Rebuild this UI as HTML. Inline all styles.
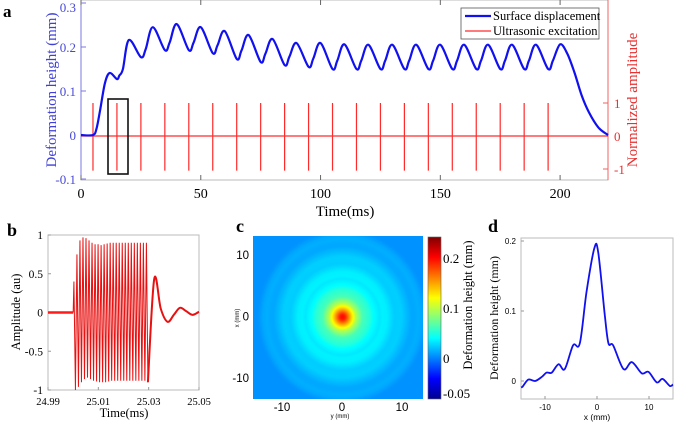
<!DOCTYPE html>
<html><head><meta charset="utf-8"><style>
html,body{margin:0;padding:0;background:#fff;width:676px;height:425px;overflow:hidden;position:relative}
svg{position:absolute;left:0;top:0}
canvas{position:absolute}
text{font-family:"Liberation Serif",serif}
.sans{font-family:"Liberation Sans",sans-serif}
</style></head><body>
<svg id="fig" width="676" height="425"></svg>
<canvas id="heat" width="170" height="163" style="left:253px;top:236px"></canvas>
<script>
// ---------- Panel a data ----------
const riseT=[0,5,6.5,8,10,12,15,16,17.5];
const riseV=[0,0,0.015,0.057,0.118,0.141,0.127,0.135,0.15];
const peakT=[20,30,40,50,60,70,80,90,100,110,120,130,140,150,160,170,180,190,200];
const peakV=[0.216,0.245,0.252,0.245,0.236,0.227,0.218,0.209,0.209,0.206,0.205,0.205,0.205,0.205,0.205,0.205,0.205,0.205,0.206];
const troughT=[25,35,45,55,65,75,85,95,105,115,125,135,145,155,165,175,185,195];
const troughV=[0.177,0.193,0.193,0.186,0.173,0.166,0.159,0.155,0.150,0.150,0.150,0.150,0.150,0.150,0.150,0.150,0.150,0.150];
const shoulderT=[27,37,47,57,67,77,87,97,107,117,127,137,147,157,167,177,187,197];
const shoulderV=[0.195,0.21,0.21,0.204,0.192,0.185,0.178,0.174,0.169,0.169,0.169,0.169,0.169,0.169,0.169,0.169,0.169,0.169];
const fallT=[203,206,209,212,216,220];
const fallV=[0.185,0.142,0.09,0.052,0.017,0];
const spikeT=[5,15,25,35,45,55,65,75,85,95,105,115,125,135,145,155,165,175,185,195];
const aXTicks=[0,50,100,150,200];
const aYTicks=[-0.1,0,0.1,0.2,0.3];
const aYTickLabels=["-0.1","0","0.1","0.2","0.3"];
const aRTicks=[-1,0,1];
// ---------- Panel b data ----------
const burstStart=25.0, burstEnd=25.03;
const posPk=[0.4,0.75,0.93,0.97,0.96,0.93,0.9,0.88,0.88,0.87,0.88,0.89,0.9,0.9,0.9,0.9,0.9,0.9,0.9,0.9,0.9,0.9,0.9,0.9,0.9];
const negPk=[-1,-0.96,-0.9,-0.86,-0.84,-0.86,-0.88,-0.89,-0.9,-0.9,-0.9,-0.89,-0.88,-0.88,-0.88,-0.88,-0.88,-0.88,-0.88,-0.88,-0.88,-0.88,-0.88,-0.88,-0.9];
const ringT=[25.0322,25.0348,25.0375,25.0400,25.0424,25.0448,25.0474,25.05];
const ringV=[0.43,0.05,-0.12,-0.03,0.06,0.02,-0.03,0.01];
const bXTicks=[24.99,25.01,25.03,25.05];
const bXTickLabels=["24.99","25.01","25.03","25.05"];
const bYTicks=[-1,-0.5,0,0.5,1];
const bYTickLabels=["-1","-0.5","0","0.5","1"];
// ---------- Panel d data (also radial profile for c) ----------
const dX=[-14.6,-14.3,-13.2,-11.9,-10.6,-9.7,-8.7,-7.4,-6.2,-4.6,-3.3,-2.0,-0.5,0.25,1.5,2.2,3.1,5.1,6.7,8.6,9.9,11.5,12.6,14.0,14.6];
const dY=[-0.009,-0.008,0.002,0.0,0.006,0.012,0.012,0.024,0.017,0.051,0.054,0.128,0.19,0.183,0.094,0.054,0.051,0.017,0.027,0.011,0.013,-0.002,0.003,-0.007,-0.005];
const dXTicks=[-10,0,10];
const dYTicks=[0,0.1,0.2];
const dYTickLabels=["0","0.1","0.2"];
const cTicks=[-10,0,10];
const cbarTicks=[0.2,0.1,0];
const cbarTickLabels=["0.2","0.1","0"];

const NS="http://www.w3.org/2000/svg";
const svg=document.getElementById('fig');
function el(tag,attrs,parent,txt){const e=document.createElementNS(NS,tag);for(const k in attrs)e.setAttribute(k,attrs[k]);if(txt!==undefined)e.textContent=txt;(parent||svg).appendChild(e);return e;}
function cr(pts){let d=`M${pts[0][0].toFixed(2)},${pts[0][1].toFixed(2)}`;for(let i=0;i<pts.length-1;i++){const p0=pts[i-1]||pts[i],p1=pts[i],p2=pts[i+1],p3=pts[i+2]||p2;const c1=[p1[0]+(p2[0]-p0[0])/6,p1[1]+(p2[1]-p0[1])/6],c2=[p2[0]-(p3[0]-p1[0])/6,p2[1]-(p3[1]-p1[1])/6];d+=`C${c1[0].toFixed(2)},${c1[1].toFixed(2)} ${c2[0].toFixed(2)},${c2[1].toFixed(2)} ${p2[0].toFixed(2)},${p2[1].toFixed(2)}`;}return d;}

// ================= Panel a =================
const ax=t=>81+t*(608-81)/220;
const ay=v=>135-v*440;
const ar=v=>136-v*33;
const ga=el('g',{},svg);
let t=el('text',{x:3,y:17,'font-size':17,'font-weight':'bold'},ga,'a');
// box
let b=el('rect',{x:81,y:0,width:527,height:180,fill:'none',stroke:'#bbb','stroke-width':1},ga);
let la=el('line',{x1:81,y1:0,x2:81,y2:180,stroke:'#7a7ae0','stroke-width':1},ga);
let ra=el('line',{x1:608,y1:0,x2:608,y2:180,stroke:'#f06060','stroke-width':1},ga);
aXTicks.forEach(v=>{
  let tk=el('line',{x1:ax(v),y1:180,x2:ax(v),y2:175,stroke:'#666'},ga);
  let tk2=el('line',{x1:ax(v),y1:0,x2:ax(v),y2:5,stroke:'#666'},ga);
  let l=el('text',{x:ax(v),y:198,'font-size':14,'text-anchor':'middle'},ga,String(v));
});
aYTicks.forEach((v,i)=>{
  let tk=el('line',{x1:81,y1:ay(v),x2:86,y2:ay(v),stroke:'#7a7ae0'},ga);
  let l=el('text',{x:76,y:ay(v)+(v>0.25?9:5),'font-size':13,'text-anchor':'end',fill:'#4848d8'},ga,aYTickLabels[i]);
});
aRTicks.forEach(v=>{
  let tk=el('line',{x1:603,y1:ar(v),x2:608,y2:ar(v),stroke:'#f06060'},ga);
  let l=el('text',{x:614,y:ar(v)+5,'font-size':13,fill:'#e83030'},ga,String(v));
});
let xl=el('text',{x:345,y:216,'font-size':15,'text-anchor':'middle'},ga,'Time(ms)');
let yl=el('text',{x:0,y:0,'font-size':15,'text-anchor':'middle',fill:'#4040d8',transform:'translate(56,90) rotate(-90)'},ga,'Deformation height (mm)');
let yr=el('text',{x:0,y:0,'font-size':15,'text-anchor':'middle',fill:'#e83030',transform:'translate(637,100) rotate(-90)'},ga,'Normalized amplitude');
// red baseline + spikes
let rb=el('line',{x1:ax(0),y1:ar(0),x2:ax(220),y2:ar(0),stroke:'#ff2a2a','stroke-width':1.2},ga);
spikeT.forEach(s=>{let l=el('line',{x1:ax(s),y1:ar(1),x2:ax(s),y2:ar(-1.05),stroke:'#ff2a2a','stroke-width':1.2},ga);});
// blue curve
const pts=[];
riseT.forEach((tt,i)=>pts.push([ax(tt),ay(riseV[i])]));
pts.push([ax(peakT[0]),ay(peakV[0])]);
for(let i=0;i<troughT.length;i++){pts.push([ax(troughT[i]),ay(troughV[i])]);pts.push([ax(shoulderT[i]),ay(shoulderV[i])]);pts.push([ax(peakT[i+1]),ay(peakV[i+1])]);}
fallT.forEach((tt,i)=>pts.push([ax(tt),ay(fallV[i])]));
let bc=el('path',{d:cr(pts),fill:'none',stroke:'#1010f0','stroke-width':2.2,'stroke-linejoin':'round'},ga);
// highlight box
let hb=el('rect',{x:108,y:99,width:20,height:75,fill:'none',stroke:'#111','stroke-width':1.6},ga);
// legend
const lg=el('g',{},ga);
el('rect',{x:461,y:8,width:138,height:31,fill:'#fff',stroke:'#555','stroke-width':0.8},lg);
let le1=el('line',{x1:465,y1:16,x2:491,y2:16,stroke:'#1010f0','stroke-width':2.2},lg);
el('text',{x:493,y:20,'font-size':12.5},lg,'Surface displacement');
let le2=el('line',{x1:465,y1:31,x2:491,y2:31,stroke:'#ff2a2a','stroke-width':1.2},lg);
el('text',{x:493,y:35,'font-size':12.5},lg,'Ultrasonic excitation');

// ================= Panel b =================
const bx=v=>48+(v-24.99)/0.06*151;
const by=v=>312.5-v*77.5;
const gb=el('g',{},svg);
t=el('text',{x:7,y:236,'font-size':18,'font-weight':'bold'},gb,'b');
b=el('rect',{x:48,y:235,width:151,height:155,fill:'none',stroke:'#bbb'},gb);
bXTicks.forEach((v,i)=>{
  el('line',{x1:bx(v),y1:390,x2:bx(v),y2:387,stroke:'#999'},gb);
  let l=el('text',{x:bx(v),y:405,'font-size':10.5,'text-anchor':'middle'},gb,bXTickLabels[i]);
});
bYTicks.forEach((v,i)=>{
  el('line',{x1:48,y1:by(v),x2:51,y2:by(v),stroke:'#999'},gb);
  let l=el('text',{x:43,y:by(v)+4,'font-size':11.5,'text-anchor':'end'},gb,bYTickLabels[i]);
});
xl=el('text',{x:124,y:417,'font-size':12.5,'text-anchor':'middle'},gb,'Time(ms)');
yl=el('text',{x:0,y:0,'font-size':12.5,'text-anchor':'middle',transform:'translate(20,312) rotate(-90)'},gb,'Amplitude (au)');
let pre=el('line',{x1:bx(24.99),y1:by(0),x2:bx(burstStart),y2:by(0),stroke:'#ff1a1a','stroke-width':2.5},gb);
const P=(burstEnd-burstStart)/posPk.length;
let bp=[[bx(burstStart),by(0)]];
posPk.forEach((v,i)=>{bp.push([bx(burstStart+(i+0.25)*P),by(v)]);bp.push([bx(burstStart+(i+0.75)*P),by(negPk[i])]);});
let bl=el('polyline',{points:bp.map(p=>p[0].toFixed(2)+','+p[1].toFixed(2)).join(' '),fill:'none',stroke:'#e81010','stroke-width':1},gb);
const rp=[bp[bp.length-1]];ringT.forEach((tt,i)=>rp.push([bx(tt),by(ringV[i])]));
let rl=el('path',{d:cr(rp),fill:'none',stroke:'#e81010','stroke-width':2},gb);

// ================= Panel c =================
const cx=v=>342+v*6, cy=v=>316.5-v*6.15;
const gc=el('g',{},svg);
t=el('text',{x:236,y:232,'font-size':18,'font-weight':'bold'},gc,'c');
cTicks.forEach(v=>{
  let l=el('text',{x:cx(v),y:411,'font-size':11.5,'text-anchor':'middle',class:'sans'},gc,String(v));
  let l2=el('text',{x:249,y:cy(v)+4,'font-size':11.5,'text-anchor':'end',class:'sans'},gc,String(v));
});
xl=el('text',{x:340,y:418,'font-size':6,'text-anchor':'middle',class:'sans'},gc,'y (mm)');
yl=el('text',{x:0,y:0,'font-size':6,'text-anchor':'middle',class:'sans',transform:'translate(239,318) rotate(-90)'},gc,'x (mm)');
// colorbar
const defs=el('defs',{},svg);
const lgd=el('linearGradient',{id:'jet',x1:0,y1:1,x2:0,y2:0},defs);
[[0,'#00008f'],[0.125,'#0000ff'],[0.375,'#00ffff'],[0.625,'#ffff00'],[0.875,'#ff0000'],[1,'#800000']].forEach(s=>el('stop',{offset:s[0],'stop-color':s[1]},lgd));
let cb=el('rect',{x:428,y:237,width:13,height:162,fill:'url(#jet)',stroke:'#666','stroke-width':0.6},gc);
const cbY=v=>358-v*500;
cbarTicks.forEach((v,i)=>{let l=el('text',{x:443,y:cbY(v)+5,'font-size':13},gc,cbarTickLabels[i]);});
let cneg=el('text',{x:443,y:398,'font-size':13},gc,'-0.05');
let cbl=el('text',{x:0,y:0,'font-size':12.5,'text-anchor':'middle',transform:'translate(472,305) rotate(-90)'},gc,'Deformation height (mm)');
// heatmap canvas
function interp(x){if(x<=dX[0])return dY[0];for(let i=0;i<dX.length-1;i++){if(x<=dX[i+1]){const f=(x-dX[i])/(dX[i+1]-dX[i]);return dY[i]+f*(dY[i+1]-dY[i]);}}return dY[dY.length-1];}
function jet(tv){const c=x=>Math.max(0,Math.min(1,x));return [c(1.5-Math.abs(4*tv-3)),c(1.5-Math.abs(4*tv-2)),c(1.5-Math.abs(4*tv-1))];}
const cv=document.getElementById('heat'),ctx=cv.getContext('2d'),img=ctx.createImageData(170,163);
const vmin=-0.082,vmax=0.242;
for(let j=0;j<163;j++)for(let i=0;i<170;i++){
  const mx=(253+i-342)/6,my=(316.5-(236+j))/6.15;const r=Math.min(14.5,Math.sqrt(mx*mx+my*my));
  const v=(interp(-r)+interp(r))/2+0.012;
  const c=jet((v-vmin)/(vmax-vmin));const k=(j*170+i)*4;
  img.data[k]=c[0]*255;img.data[k+1]=c[1]*255;img.data[k+2]=c[2]*255;img.data[k+3]=255;}
ctx.putImageData(img,0,0);

// ================= Panel d =================
const dxs=v=>597+v*5.2, dys=v=>381-v*700;
const gd=el('g',{},svg);
t=el('text',{x:488,y:232,'font-size':18,'font-weight':'bold'},gd,'d');
b=el('rect',{x:521,y:238,width:152,height:161,fill:'none',stroke:'#bbb'},gd);
dXTicks.forEach(v=>{el('line',{x1:dxs(v),y1:399,x2:dxs(v),y2:396,stroke:'#999'},gd);
  let l=el('text',{x:dxs(v),y:410,'font-size':8,'text-anchor':'middle',class:'sans'},gd,String(v));});
dYTicks.forEach((v,i)=>{el('line',{x1:521,y1:dys(v),x2:524,y2:dys(v),stroke:'#999'},gd);
  let l=el('text',{x:516,y:dys(v)+3,'font-size':8,'text-anchor':'end',class:'sans'},gd,dYTickLabels[i]);});
xl=el('text',{x:597,y:420,'font-size':8.5,'text-anchor':'middle',class:'sans'},gd,'x (mm)');
yl=el('text',{x:0,y:0,'font-size':12,'text-anchor':'middle',transform:'translate(498,318) rotate(-90)'},gd,'Deformation height (mm)');
const dp=dX.map((x,i)=>[dxs(x),dys(dY[i])]);
let dl=el('path',{d:cr(dp),fill:'none',stroke:'#1010f0','stroke-width':1.8},gd);
</script>
</body></html>
